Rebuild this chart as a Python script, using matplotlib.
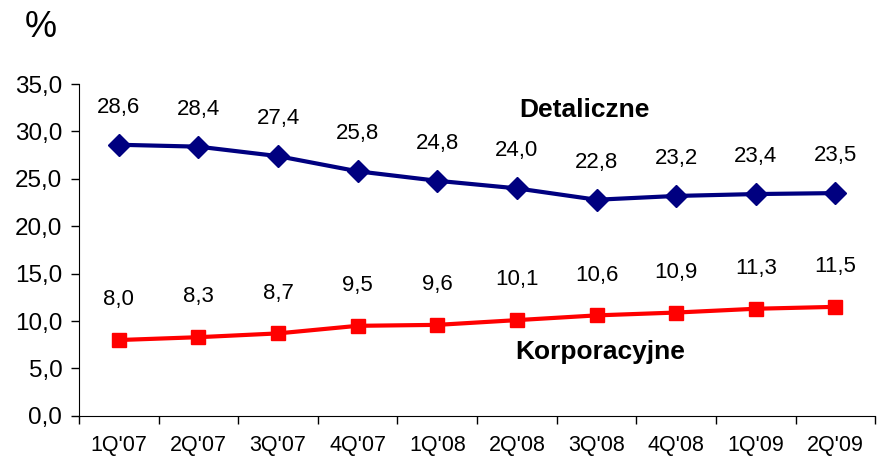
import matplotlib
matplotlib.use("Agg")
import matplotlib.pyplot as plt

plt.rcParams['font.family'] = ['Liberation Sans', 'DejaVu Sans']

categories = ["1Q'07", "2Q'07", "3Q'07", "4Q'07", "1Q'08", "2Q'08", "3Q'08", "4Q'08", "1Q'09", "2Q'09"]
detaliczne = [28.6, 28.4, 27.4, 25.8, 24.8, 24.0, 22.8, 23.2, 23.4, 23.5]
korporacyjne = [8.0, 8.3, 8.7, 9.5, 9.6, 10.1, 10.6, 10.9, 11.3, 11.5]
yticks = [0, 5, 10, 15, 20, 25, 30, 35]

fig = plt.figure(figsize=(8.77, 4.57), dpi=100)
ax = fig.add_axes([0.090, 0.090, 0.908, 0.726])

x = list(range(len(categories)))
ax.plot(x, detaliczne, color='#000080', lw=3, marker='D', markersize=11, zorder=3)
ax.plot(x, korporacyjne, color='#FF0000', lw=3, marker='s', markersize=10, zorder=3)

def fmt(v):
    return f"{v:.1f}".replace('.', ',')

for xi, v in zip(x, detaliczne):
    ax.annotate(fmt(v), (xi, v), xytext=(0, 27), textcoords='offset points',
                ha='center', va='center', fontsize=16)
for xi, v in zip(x, korporacyjne):
    ax.annotate(fmt(v), (xi, v), xytext=(0, 29), textcoords='offset points',
                ha='center', va='center', fontsize=16)

ax.set_xlim(-0.5, len(categories) - 0.5)
ax.set_ylim(0, 35)
ax.set_yticks(yticks)
ax.set_yticklabels([fmt(v) for v in yticks], fontsize=17.5)
ax.set_xticks([i + 0.5 for i in range(-1, len(categories))], minor=False)
ax.set_xticklabels([])
ax.set_xticks(x, minor=True)
ax.set_xticklabels(categories, minor=True, fontsize=15.5)
ax.tick_params(axis='x', which='minor', length=0, pad=14)
ax.tick_params(axis='x', which='major', length=6, width=1)
ax.tick_params(axis='y', length=6, width=1, pad=6)
for s in ['top', 'right']:
    ax.spines[s].set_visible(False)

ax.text(5.85, 32.3, 'Detaliczne', fontsize=19, fontweight='bold', ha='center', va='center')
ax.text(6.05, 6.7, 'Korporacyjne', fontsize=19, fontweight='bold', ha='center', va='center')
fig.text(0.046, 0.94, '%', fontsize=26, ha='center', va='center')

fig.savefig('out.png', dpi=100)
